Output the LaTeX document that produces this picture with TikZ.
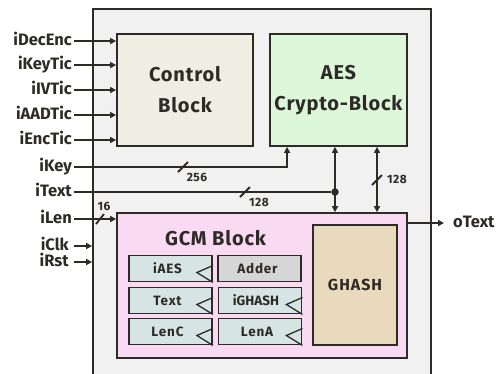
\documentclass[tikz,border=0pt]{standalone}
\usepackage{fontspec}
\setmainfont{Fira Sans}
\usetikzlibrary{arrows.meta,calc}
\definecolor{ink}{HTML}{2E2B26}
\definecolor{outerfill}{HTML}{F1F1F1}
\definecolor{ctrlfill}{HTML}{EEEEE2}
\definecolor{aesfill}{HTML}{DDF7DA}
\definecolor{gcmfill}{HTML}{F9DAF2}
\definecolor{ghashfill}{HTML}{E9D9BD}
\definecolor{subfill}{HTML}{D6E5E3}
\definecolor{adderfill}{HTML}{D6D6D6}
\tikzset{
  wire/.style={draw=ink, line width=1.8pt},
  arr/.style={wire, -{Triangle[length=6pt,width=6pt]}},
  barr/.style={wire, {Triangle[length=6pt,width=6pt]}-{Triangle[length=6pt,width=6pt]}},
  box/.style={draw=ink, line width=1.8pt, rectangle, inner sep=0pt, text=ink},
  bigtext/.style={font=\bfseries\fontsize{20}{31}\selectfont\addfontfeatures{LetterSpace=4}, align=center},
  subbox/.style={box, fill=subfill, minimum width=83pt, minimum height=26pt,
    font=\bfseries\fontsize{13.5}{15}\selectfont\addfontfeatures{LetterSpace=6}},
  inlabel/.style={text=ink, font=\bfseries\fontsize{16.5}{19}\selectfont, anchor=east,
    inner xsep=2pt, inner ysep=0pt, text height=10pt, text depth=2pt},
  numlabel/.style={text=ink, font=\bfseries\fontsize{12}{14}\selectfont\addfontfeatures{LetterSpace=4}, inner sep=0pt},
  clk/.style={draw=ink, line width=1.3pt},
}
\begin{document}
\begin{tikzpicture}[x=1pt,y=-1pt]
\useasboundingbox (0,0) rectangle (500,373);
% outer box
\node[box, fill=outerfill, minimum width=338pt, minimum height=400pt] (outer) at (262,209) {};
% main blocks
\node[box, fill=ctrlfill, minimum width=136pt, minimum height=112pt, bigtext] (ctrl) at (185,90) {Control\\Block};
\node[box, fill=aesfill, minimum width=137pt, minimum height=112pt, bigtext] (aes) at (338.5,90) {AES\\Crypto-Block};
\node[box, fill=gcmfill, minimum width=290pt, minimum height=145pt] (gcm) at (262,285.5) {};
\node[text=ink, font=\bfseries\fontsize{20}{24}\selectfont\addfontfeatures{LetterSpace=4}] (gcmlab) at (215.5,238) {GCM Block};
\node[box, fill=ghashfill, minimum width=84pt, minimum height=120pt, font=\bfseries\fontsize{16}{18}\selectfont\addfontfeatures{LetterSpace=6}] (ghash) at (355,285) {GHASH};
% sub boxes
\node[subbox] (iaes) at (170.5,268.5) {\hspace*{-6pt}iAES};
\node[subbox, fill=adderfill] (adder) at (259.5,268.5) {\hspace*{-4pt}Adder};
\node[subbox] (txt) at (170.5,300.5) {\hspace*{-6pt}Text};
\node[subbox, font=\bfseries\fontsize{13.5}{15}\selectfont] (ighash) at (260,300.5) {\hspace*{-8pt}iGHASH};
\node[subbox] (lenc) at (170.5,331.5) {\hspace*{-6pt}LenC};
\node[subbox] (lena) at (260,331.5) {\hspace*{-6pt}LenA};
\foreach \n in {iaes,txt,ighash,lenc,lena}
  \draw[clk] ($(\n.east)+(0,-3)$) -- ($(\n.east)+(-16,4)$) -- (\n.south east);
% inputs to control block
\node[inlabel] (idec) at (74,41) {iDecEnc};
\node[inlabel] (ikeytic) at (74,65) {iKeyTic};
\node[inlabel] (iivtic) at (74,90) {iIVTic};
\node[inlabel] (iaadtic) at (74,115) {iAADTic};
\node[inlabel] (ienctic) at (74,140) {iEncTic};
\foreach \n in {idec,ikeytic,iivtic,iaadtic,ienctic}
  \draw[arr] (\n.east) -- (ctrl.west |- \n.east);
% iKey
\node[inlabel] (ikey) at (74,167) {iKey};
\draw[arr] (ikey.east) -| ([xshift=18pt]aes.south west);
\draw[wire] (178,172) -- (188,162);
\node[numlabel] (n256) at (197,177) {256};
% iText
\node[inlabel] (itext) at (74,192) {iText};
\node[circle, fill=ink, inner sep=0pt, minimum size=7.5pt] (dot) at (335,192) {};
\draw[wire] (itext.east) -- (dot);
\draw[wire] (240,197) -- (250,187);
\node[numlabel] (n128a) at (259,202) {128};
\draw[barr] (aes.south -| dot) -- (gcm.north -| dot);
% second bus
\coordinate (bus2) at (377,180);
\draw[barr] (aes.south -| bus2) -- (gcm.north -| bus2);
\draw[wire] (372,185) -- (382,175);
\node[numlabel] (n128b) at (397,179) {128};
% iLen
\node[inlabel] (ilen) at (74,219) {iLen};
\draw[arr] (ilen.east) -- (gcm.west |- ilen.east);
\draw[wire] (96,224) -- (104,214);
\node[numlabel] (n16) at (104,206) {16};
% clk / rst
\node[inlabel, inner xsep=5pt] (iclk) at (74,246) {iClk};
\node[inlabel, inner xsep=5pt] (irst) at (74,262) {iRst};
\draw[arr] (iclk.east) -- (outer.west |- iclk.east);
\draw[arr] (irst.east) -- (outer.west |- irst.east);
% oText
\node[inlabel, anchor=west, inner xsep=9pt] (otext) at (444,223) {oText};
\draw[arr] (gcm.east |- otext.west) -- (otext.west);
\end{tikzpicture}
\end{document}
